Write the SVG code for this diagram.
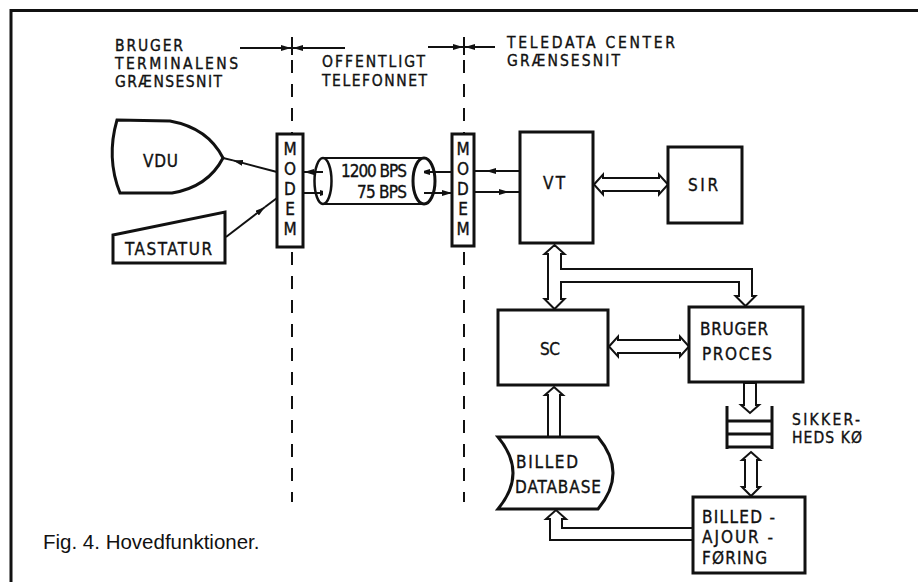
<svg xmlns="http://www.w3.org/2000/svg" width="918" height="582" viewBox="0 0 918 582">
<style>
.lbl{font-family:"DejaVu Sans Condensed","DejaVu Sans",sans-serif;font-stretch:condensed;font-size:17px;fill:#111;stroke:#111;stroke-width:0.35}
.hdr{font-family:"DejaVu Sans Condensed","DejaVu Sans",sans-serif;font-stretch:condensed;font-size:15.5px;fill:#111;stroke:#111;stroke-width:0.35}
.box{fill:#fff;stroke:#111;stroke-width:3}
.pipe{fill:#fff;stroke:#111;stroke-width:2;stroke-linejoin:miter}
.ln{stroke:#111;stroke-width:2;fill:none}
.dash{stroke:#111;stroke-width:2;stroke-dasharray:13 11;fill:none}
.cap{font-family:"Liberation Sans",Arial,sans-serif;font-size:20.5px;fill:#111}
</style>
<defs>
<marker id="ah" viewBox="0 0 10 6" refX="10" refY="3" markerWidth="10" markerHeight="6" markerUnits="userSpaceOnUse" orient="auto"><path d="M0,0 L10,3 L0,6 z" fill="#111"/></marker>
</defs>
<rect width="918" height="582" fill="#fff"/>
<!-- frame -->
<path d="M11,582 L11,10.5 L918,10.5" fill="none" stroke="#111" stroke-width="3"/>

<!-- interface boundaries -->
<g id="boundaries">
<line class="dash" x1="292" y1="60" x2="292" y2="502"/>
<line class="dash" x1="464" y1="60" x2="464" y2="502"/>
<line class="ln" x1="292" y1="37" x2="292" y2="55"/>
<line class="ln" x1="464" y1="37" x2="464" y2="55"/>
<line class="ln" x1="240" y1="48" x2="291" y2="48" marker-end="url(#ah)"/>
<line class="ln" x1="345" y1="48" x2="293" y2="48" marker-end="url(#ah)"/>
<line class="ln" x1="428" y1="47" x2="463" y2="47" marker-end="url(#ah)"/>
<line class="ln" x1="495" y1="47" x2="465" y2="47" marker-end="url(#ah)"/>
<text class="hdr"><tspan x="115" y="51" textLength="68">BRUGER</tspan><tspan x="115" y="69" textLength="123">TERMINALENS</tspan><tspan x="115" y="87" textLength="107">GRÆNSESNIT</tspan></text>
<text class="hdr"><tspan x="322" y="67" textLength="103">OFFENTLIGT</tspan><tspan x="322" y="86" textLength="105">TELEFONNET</tspan></text>
<text class="hdr"><tspan x="507" y="48" textLength="168">TELEDATA CENTER</tspan><tspan x="507" y="66" textLength="113">GRÆNSESNIT</tspan></text>
</g>

<!-- connectors -->
<g id="connectors">
<line class="ln" x1="277" y1="172" x2="233" y2="160.4" marker-end="url(#ah)"/>
<line class="ln" x1="233" y1="160.4" x2="223" y2="158"/>
<line class="ln" x1="226" y1="237" x2="265" y2="207" marker-end="url(#ah)"/>
<line class="ln" x1="265" y1="207" x2="277" y2="198"/>
<line class="ln" x1="330" y1="172" x2="304" y2="172" marker-end="url(#ah)"/>
<line class="ln" x1="304" y1="193" x2="330" y2="193" marker-end="url(#ah)"/>
<line class="ln" x1="452" y1="172" x2="420" y2="172" marker-end="url(#ah)"/>
<line class="ln" x1="420" y1="193" x2="452" y2="193" marker-end="url(#ah)"/>
<line class="ln" x1="519" y1="171" x2="486" y2="171" marker-end="url(#ah)"/>
<line class="ln" x1="486" y1="171" x2="475" y2="171"/>
<line class="ln" x1="475" y1="192" x2="509" y2="192" marker-end="url(#ah)"/>
<line class="ln" x1="509" y1="192" x2="519" y2="192"/>
<path class="pipe" d="M594,184.5 L603,174.5 L603,178 L659,178 L659,174.5 L668,184.5 L659,194.5 L659,191 L603,191 L603,194.5 Z"/>
<path class="pipe" d="M554.5,245 L564.5,254 L561,254 L561,269 L752,269 L752,296 L755.5,296 L745.5,306 L735.5,296 L739,296 L739,282 L561,282 L561,299 L564.5,299 L554.5,309 L544.5,299 L548,299 L548,254 L544.5,254 Z"/>
<path class="pipe" d="M609,346.5 L618,336.5 L618,340 L680,340 L680,336.5 L689,346.5 L680,356.5 L680,353 L618,353 L618,356.5 Z"/>
<path class="pipe" d="M554,387 L563,395 L560,395 L560,438 L548,438 L548,395 L545,395 Z"/>
<path class="pipe" d="M744,383 L756,383 L756,405 L759,405 L750,413 L741,405 L744,405 Z"/>
<path class="pipe" d="M751,452 L760,460 L757,460 L757,487 L760,487 L751,496 L742,487 L745,487 L745,460 L742,460 Z"/>
<path class="pipe" d="M694,528 L562,528 L562,519 L566,519 L556,510 L546,519 L550,519 L550,540 L694,540 Z"/>
</g>

<!-- nodes -->
<g id="vdu">
<path class="box" d="M117,120 L170,121 Q208,128 223,158 Q208,187 172,193 L120,193 Q106,158 117,120 Z"/>
<text class="lbl" x="143" y="167" textLength="35">VDU</text>
</g>
<g id="tastatur">
<path class="box" d="M113,235 L225,212 L225,263 L113,263 Z"/>
<text class="lbl" x="125" y="255" textLength="87">TASTATUR</text>
</g>
<g id="modem1">
<rect class="box" x="277" y="134" width="26" height="113"/>
<text class="lbl" text-anchor="middle"><tspan x="290" y="155">M</tspan><tspan x="290" y="175">O</tspan><tspan x="290" y="195">D</tspan><tspan x="290" y="215">E</tspan><tspan x="290" y="235">M</tspan></text>
</g>
<g id="telefonnet">
<path d="M323,158 L424,158 L424,204 L323,204 Z" fill="#fff"/>
<line class="ln" x1="323" y1="158" x2="424" y2="158" stroke-width="3"/>
<line class="ln" x1="323" y1="204" x2="424" y2="204" stroke-width="3"/>
<ellipse cx="323" cy="181" rx="8.5" ry="23" fill="none" stroke="#111" stroke-width="2.5"/>
<ellipse cx="424" cy="181" rx="11" ry="23" fill="none" stroke="#111" stroke-width="3"/>
<text class="lbl" x="341" y="177" textLength="66">1200 BPS</text>
<text class="lbl" x="357" y="198" textLength="50">75 BPS</text>
</g>
<g id="modem2">
<rect class="box" x="452" y="134" width="22" height="112"/>
<text class="lbl" text-anchor="middle"><tspan x="463" y="155">M</tspan><tspan x="463" y="175">O</tspan><tspan x="463" y="195">D</tspan><tspan x="463" y="215">E</tspan><tspan x="463" y="235">M</tspan></text>
</g>
<g id="vt">
<rect class="box" x="520" y="132" width="73" height="111"/>
<text class="lbl" x="543" y="189" textLength="22">VT</text>
</g>
<g id="sir">
<rect class="box" x="668" y="147" width="74" height="76"/>
<text class="lbl" x="688" y="191" textLength="30">SIR</text>
</g>
<g id="sc">
<rect class="box" x="498" y="310" width="110" height="75"/>
<text class="lbl" x="540" y="355" textLength="20">SC</text>
</g>
<g id="brugerproces">
<rect class="box" x="689" y="307" width="114" height="75"/>
<text class="lbl"><tspan x="700" y="335" textLength="68">BRUGER</tspan><tspan x="702" y="360" textLength="70">PROCES</tspan></text>
</g>
<g id="sikkerhedsko">
<path d="M727,406 L727,449 M772,406 L772,449 M727,421 L772,421 M727,434 L772,434 M727,447 L772,447" fill="none" stroke="#111" stroke-width="3"/>
<text class="hdr"><tspan x="792" y="425" textLength="68">SIKKER-</tspan><tspan x="792" y="443" textLength="70">HEDS KØ</tspan></text>
</g>
<g id="billeddatabase">
<path class="box" d="M498,437 L598,437 Q628,473 598,509 L498,509 Q528,473 498,437 Z"/>
<text class="lbl"><tspan x="516" y="468" textLength="62">BILLED</tspan><tspan x="515" y="493" textLength="86">DATABASE</tspan></text>
</g>
<g id="billedajourforing">
<rect class="box" x="693" y="497" width="112" height="76"/>
<text class="lbl"><tspan x="702" y="523" textLength="73">BILLED -</tspan><tspan x="702" y="543" textLength="71">AJOUR -</tspan><tspan x="702" y="564" textLength="65">FØRING</tspan></text>
</g>
<text class="cap" x="43" y="549">Fig. 4. Hovedfunktioner.</text>
</svg>
